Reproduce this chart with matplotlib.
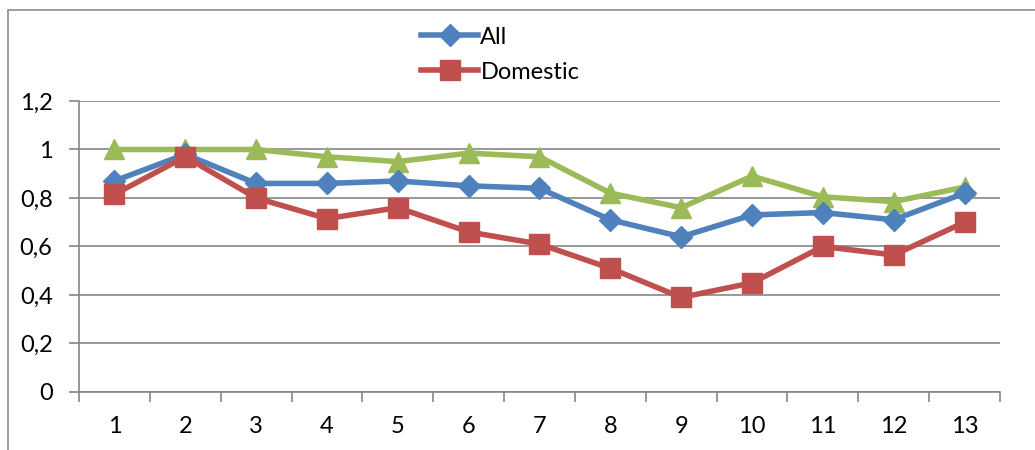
import numpy as np
import matplotlib.pyplot as plt
from matplotlib.patches import Rectangle
from matplotlib.ticker import FixedLocator, FuncFormatter

plt.rcParams['font.family'] = ['Lato', 'DejaVu Sans']

periods = list(range(1, 14))
all_share = [0.87, 0.98, 0.86, 0.86, 0.87, 0.85, 0.84, 0.71, 0.64, 0.73, 0.74, 0.71, 0.82]
domestic = [0.815, 0.97, 0.80, 0.715, 0.76, 0.66, 0.61, 0.51, 0.39, 0.45, 0.60, 0.565, 0.70]
third = [1.0, 1.0, 1.0, 0.97, 0.95, 0.985, 0.97, 0.82, 0.76, 0.89, 0.805, 0.785, 0.845]

fig = plt.figure(figsize=(10.35, 4.5), dpi=100)
ax = fig.add_axes([0.0763, 0.1289, 0.8899, 0.6467])

x = np.arange(len(periods))
ax.plot(x, third, color='#9BBB59', lw=4, marker='^', ms=14, label='_nolegend_', zorder=3)
ax.plot(x, all_share, color='#4F81BD', lw=4, marker='D', ms=11.5, label='All', zorder=4)
ax.plot(x, domestic, color='#C0504D', lw=4, marker='s', ms=14, label='Domestic', zorder=5)

ax.set_xlim(-0.5, len(periods) - 0.5)
ax.set_ylim(0, 1.2)
ax.set_yticks(np.arange(0, 1.21, 0.2))
ax.yaxis.set_major_formatter(FuncFormatter(lambda v, p: f'{v:.1f}'.rstrip('0').rstrip('.').replace('.', ',') if v else '0'))
ax.set_xticks(x)
ax.set_xticklabels([str(p) for p in periods])
ax.xaxis.set_minor_locator(FixedLocator(np.arange(-0.5, len(periods), 1.0)))
ax.tick_params(axis='x', which='major', length=0, pad=17, labelsize=17)
ax.tick_params(axis='x', which='minor', length=7, width=1.2, color='#868686')
ax.tick_params(axis='y', length=7, width=1.2, color='#868686', pad=12, labelsize=17)

ax.grid(axis='y', color='#868686', lw=1.2)
ax.set_axisbelow(True)
for side in ('top', 'right'):
    ax.spines[side].set_visible(False)
for side in ('left', 'bottom'):
    ax.spines[side].set_color('#868686')
    ax.spines[side].set_linewidth(1.2)

fig.legend(loc='upper left', bbox_to_anchor=(0.398, 0.962), frameon=False, fontsize=17,
           handlelength=2.4, labelspacing=0.6, handletextpad=0.1, borderaxespad=0)

# chart frame
fig.patches.append(Rectangle((8 / 1035, -0.2), 1.2, 1.2 - 10 / 450, transform=fig.transFigure,
                             fill=False, edgecolor='#8C8C8C', lw=1.2))

fig.savefig('out.png', dpi=100)
